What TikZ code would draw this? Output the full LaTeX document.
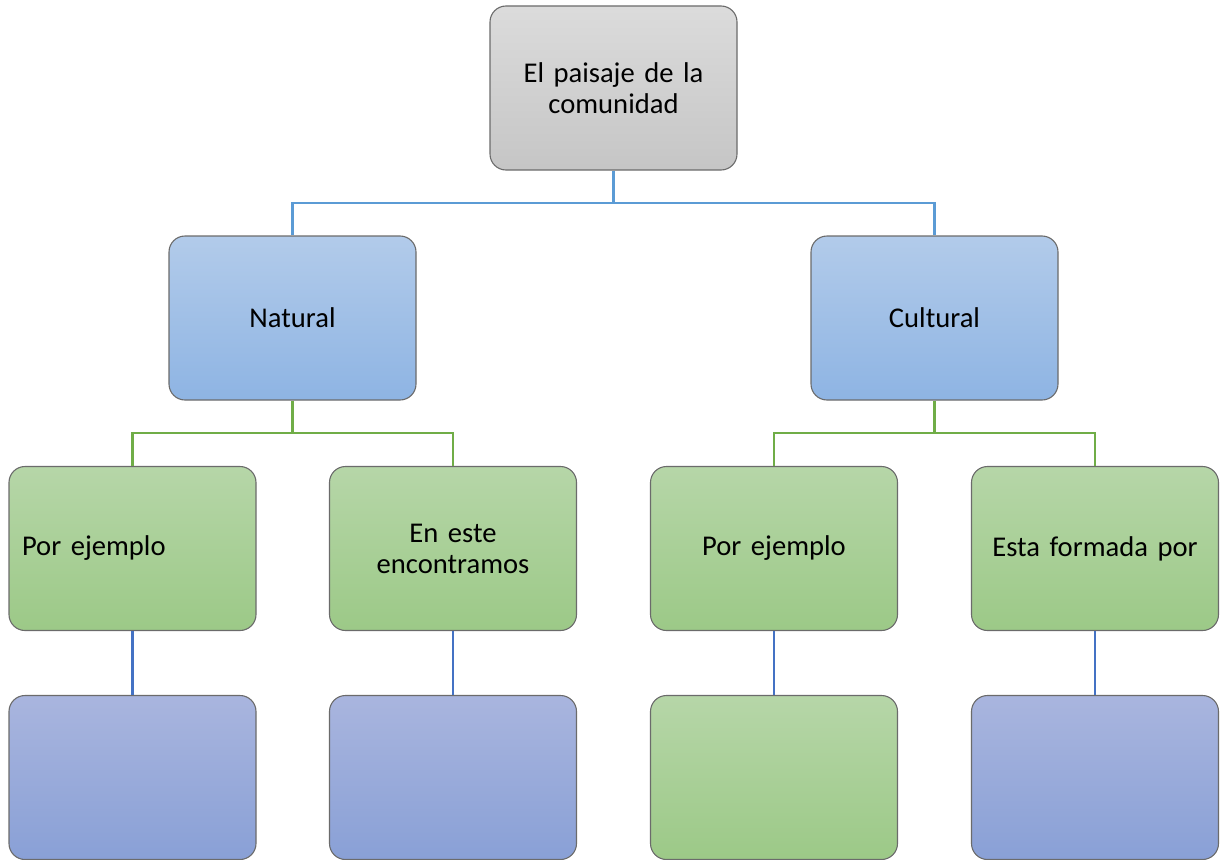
\documentclass[tikz,border=0pt]{standalone}
\usepackage{fontspec}
\setmainfont{Carlito}
\definecolor{bordc}{HTML}{6B6B6B}
\definecolor{lineA}{HTML}{5B9BD5}
\definecolor{lineB}{HTML}{70AD47}
\definecolor{lineC}{HTML}{4472C4}
\tikzset{
  box/.style={draw=bordc, line width=1.1pt, rounded corners=16pt, minimum width=247pt, minimum height=164pt,
    text width=221pt, inner xsep=0pt, align=center, font=\fontsize{28.6}{31}\selectfont, text=black},
  graybox/.style={box, top color=gray!28, bottom color=gray!45},
  bluebox/.style={box, top color={rgb,255:red,178;green,203;blue,234}, bottom color={rgb,255:red,142;green,180;blue,227}},
  greenbox/.style={box, top color={rgb,255:red,182;green,214;blue,168}, bottom color={rgb,255:red,156;green,201;blue,135}},
  purpbox/.style={box, top color={rgb,255:red,169;green,181;blue,222}, bottom color={rgb,255:red,137;green,160;blue,214}},
  conA/.style={draw=lineA, line width=2.4pt},
  conB/.style={draw=lineB, line width=2.4pt},
  conC/.style={draw=lineC, line width=2.4pt},
}
\begin{document}
\begin{tikzpicture}[x=1pt,y=-1pt]
\useasboundingbox (0,0) rectangle (1222,859);
% nodes
\node[graybox] (top) at (613.5,88) {El paisaje de la\\comunidad};
\node[bluebox] (nat) at (292.5,318) {Natural};
\node[bluebox] (cul) at (934.5,318) {Cultural};
\node[greenbox, align=left] (n1) at (132.5,548.5) {Por ejemplo};
\node[greenbox] (n2) at (453,548.5) {En este\\encontramos};
\node[greenbox] (c1) at (774,548.5) {Por ejemplo};
\node[greenbox] (c2) at (1095,548.5) {Esta formada por};
\node[purpbox] (b1) at (132.5,777.5) {};
\node[purpbox] (b2) at (453,777.5) {};
\node[greenbox] (b3) at (774,777.5) {};
\node[purpbox] (b4) at (1095,777.5) {};
% connector junctions
\coordinate (jt) at (613.5,203);
\coordinate (jn) at (292.5,433);
\coordinate (jc) at (934.5,433);
% connectors
\draw[conA] (top.south) -- (jt) -| (nat.north);
\draw[conA] (jt) -| (cul.north);
\draw[conB] (nat.south) -- (jn) -| (n1.north);
\draw[conB] (jn) -| (n2.north);
\draw[conB] (cul.south) -- (jc) -| (c1.north);
\draw[conB] (jc) -| (c2.north);
\draw[conC] (n1.south) -- (b1.north);
\draw[conC] (n2.south) -- (b2.north);
\draw[conC] (c1.south) -- (b3.north);
\draw[conC] (c2.south) -- (b4.north);
\end{tikzpicture}
\end{document}
